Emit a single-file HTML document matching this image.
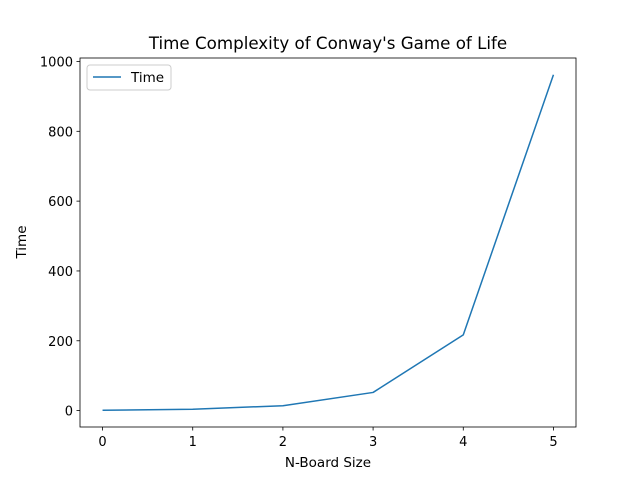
<!DOCTYPE html>
<html><head><meta charset="utf-8"><style>
body{margin:0;background:#fff;}
svg text{font-family:"DejaVu Sans","Liberation Sans",sans-serif;fill:#000;}
</style></head><body>
<svg id="chart" width="640" height="480" viewBox="0 0 640 480">
<rect width="640" height="480" fill="#fff"/>
<text x="328" y="49" font-size="16.7" text-anchor="middle">Time Complexity of Conway's Game of Life</text>
<g id="axes"></g>
<rect x="80" y="58" width="496" height="369" fill="none" stroke="#000" stroke-width="0.8"/>
<text x="328" y="467" font-size="13.5" text-anchor="middle">N-Board Size</text>
<text x="26" y="242" font-size="13.5" text-anchor="middle" transform="rotate(-90 26 242)">Time</text>
<g>
<rect x="87" y="65" width="84" height="25" rx="3" fill="#fff" stroke="#ccc" stroke-width="1"/>
<line x1="93" y1="77" x2="121" y2="77" stroke="#1f77b4" stroke-width="1.5"/>
<text x="131" y="82" font-size="13.5">Time</text>
</g>
</svg>
<script>
const categories=[0,1,2,3,4,5];
const timeValues=[1,4,14,52,217,962];
const xTicks=[0,1,2,3,4,5];
const yTicks=[0,200,400,600,800,1000];
const X0=80,X1=576,Y0=427,Y1=58;
const xMin=-0.25,xMax=5.25,yMin=-47,yMax=1010;
function xs(v){return X0+(v-xMin)/(xMax-xMin)*(X1-X0);}
function ys(v){return Y0-(v-yMin)/(yMax-yMin)*(Y0-Y1);}
const NS="http://www.w3.org/2000/svg";
const g=document.getElementById('axes');
function mk(t,a){const e=document.createElementNS(NS,t);for(const k in a)e.setAttribute(k,a[k]);g.appendChild(e);return e;}
xTicks.forEach(t=>{
const x=xs(t);
const l=mk('line',{x1:x,y1:Y0,x2:x,y2:Y0+3.5,stroke:'#000','stroke-width':0.8});


const tx=mk('text',{x:x,y:Y0+19,'font-size':13,'text-anchor':'middle'});
tx.textContent=t;


});
yTicks.forEach(t=>{
const y=ys(t);
const l=mk('line',{x1:X0-3.5,y1:y,x2:X0,y2:y,stroke:'#000','stroke-width':0.8});


const tx=mk('text',{x:X0-7,y:y+5,'font-size':13,'text-anchor':'end'});
tx.textContent=t;


});
const pts=categories.map((c,i)=>xs(c)+','+ys(timeValues[i])).join(' ');
const pl=mk('polyline',{points:pts,fill:'none',stroke:'#1f77b4','stroke-width':1.5,'stroke-linejoin':'round'});


</script>
</body></html>
